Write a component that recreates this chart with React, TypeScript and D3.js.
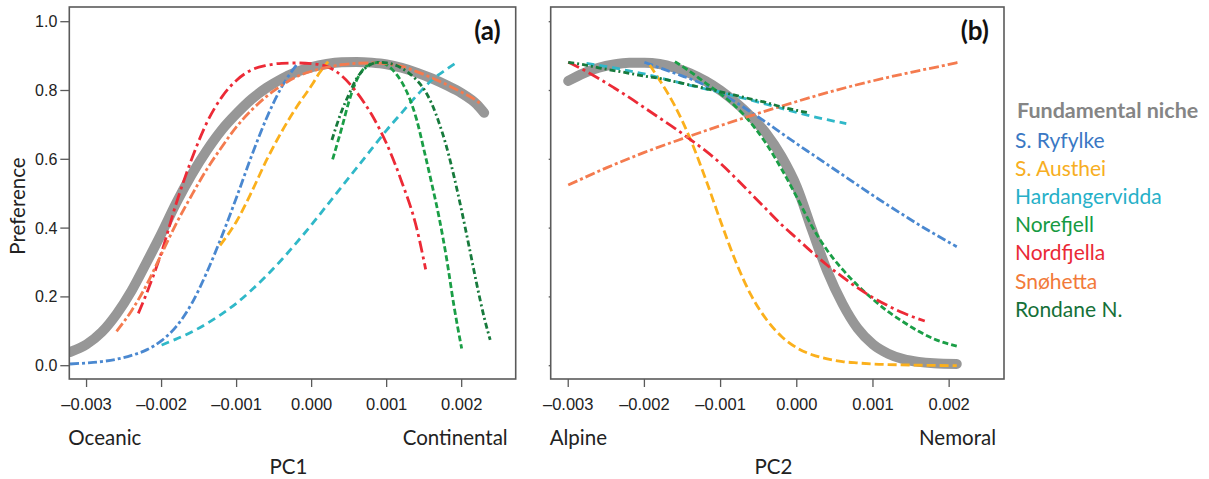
import React from "react";
import * as d3 from "d3";

type Pt = [number, number];

// ---------- Panel (a): PC1 ----------
const fundamentalA: Pt[] = [
  [-0.00322, 0.04], [-0.003, 0.062], [-0.0028, 0.097], [-0.0026, 0.15], [-0.0024, 0.218],
  [-0.0022, 0.3], [-0.002, 0.385], [-0.0018, 0.475], [-0.0016, 0.555], [-0.0014, 0.625],
  [-0.0012, 0.685], [-0.001, 0.733], [-0.0008, 0.775], [-0.0006, 0.808], [-0.0004, 0.834],
  [-0.0002, 0.854], [0, 0.868], [0.0002, 0.877], [0.0004, 0.882], [0.0006, 0.883],
  [0.0008, 0.881], [0.001, 0.876], [0.0012, 0.866], [0.0014, 0.852], [0.0016, 0.835],
  [0.0018, 0.815], [0.002, 0.792], [0.0022, 0.76], [0.0023, 0.735],
];
const ryfylkeA: Pt[] = [
  [-0.00322, 0.005], [-0.003, 0.008], [-0.0028, 0.012], [-0.0026, 0.019], [-0.0024, 0.03],
  [-0.0022, 0.046], [-0.002, 0.073], [-0.0018, 0.115], [-0.0016, 0.18], [-0.0014, 0.27],
  [-0.0012, 0.375], [-0.001, 0.49], [-0.0008, 0.61], [-0.0006, 0.72], [-0.0004, 0.81],
  [-0.00018, 0.88],
];
const austheiA: Pt[] = [
  [-0.00122, 0.35], [-0.001, 0.42], [-0.0008, 0.505], [-0.0006, 0.598], [-0.0004, 0.68],
  [-0.0002, 0.752], [0, 0.815], [0.0001, 0.85], [0.00022, 0.884],
];
const hardangerviddaA: Pt[] = [
  [-0.002, 0.06], [-0.0018, 0.078], [-0.0016, 0.098], [-0.0014, 0.122], [-0.0012, 0.15],
  [-0.001, 0.182], [-0.0008, 0.22], [-0.0006, 0.262], [-0.0004, 0.308], [-0.0002, 0.358],
  [0, 0.41], [0.0002, 0.465], [0.0004, 0.52], [0.0006, 0.575], [0.0008, 0.63],
  [0.001, 0.685], [0.0012, 0.735], [0.0014, 0.785], [0.0016, 0.83], [0.0018, 0.862],
  [0.00195, 0.884],
];
const norefjellA: Pt[] = [
  [0.00028, 0.6], [0.0004, 0.69], [0.0005, 0.77], [0.0006, 0.83], [0.0007, 0.865],
  [0.0008, 0.878], [0.0009, 0.882], [0.001, 0.875], [0.0011, 0.855], [0.0012, 0.825],
  [0.0013, 0.78], [0.0014, 0.715], [0.0015, 0.625], [0.0016, 0.53], [0.0017, 0.43],
  [0.0018, 0.31], [0.0019, 0.17], [0.002, 0.05],
];
const nordfjellaA: Pt[] = [
  [-0.00231, 0.152], [-0.0022, 0.21], [-0.002, 0.33], [-0.0018, 0.475], [-0.0016, 0.6],
  [-0.0014, 0.705], [-0.0012, 0.78], [-0.001, 0.83], [-0.0008, 0.86], [-0.0006, 0.873],
  [-0.0004, 0.879], [-0.0002, 0.88], [0, 0.878], [0.0002, 0.87], [0.0004, 0.843],
  [0.0006, 0.795], [0.0008, 0.73], [0.001, 0.645], [0.0012, 0.535], [0.0014, 0.4],
  [0.00152, 0.28],
];
const snohettaA: Pt[] = [
  [-0.0026, 0.1], [-0.0024, 0.16], [-0.0022, 0.235], [-0.002, 0.325], [-0.0018, 0.415],
  [-0.0016, 0.495], [-0.0014, 0.57], [-0.0012, 0.635], [-0.001, 0.695], [-0.0008, 0.743],
  [-0.0006, 0.783], [-0.0004, 0.815], [-0.0002, 0.84], [0, 0.856], [0.0002, 0.867],
  [0.0004, 0.875], [0.0006, 0.879], [0.0008, 0.88], [0.001, 0.878], [0.0012, 0.87],
  [0.0014, 0.855], [0.0016, 0.837], [0.0018, 0.817], [0.002, 0.795], [0.0022, 0.77],
  [0.00227, 0.758],
];
const rondaneA: Pt[] = [
  [0.00027, 0.656], [0.0004, 0.74], [0.0005, 0.79], [0.0006, 0.835], [0.0007, 0.862],
  [0.0008, 0.877], [0.0009, 0.882], [0.001, 0.88], [0.0011, 0.875], [0.0012, 0.865],
  [0.0013, 0.85], [0.0014, 0.83], [0.0015, 0.803], [0.0016, 0.762], [0.0017, 0.705],
  [0.0018, 0.635], [0.0019, 0.548], [0.002, 0.45], [0.0021, 0.345], [0.0022, 0.238],
  [0.0023, 0.14], [0.00238, 0.075],
];

// ---------- Panel (b): PC2 ----------
const fundamentalB: Pt[] = [
  [-0.003, 0.828], [-0.0028, 0.85], [-0.0026, 0.866], [-0.0024, 0.876], [-0.0022, 0.881],
  [-0.002, 0.881], [-0.0018, 0.877], [-0.0016, 0.866], [-0.0014, 0.85], [-0.0012, 0.828],
  [-0.001, 0.8], [-0.0008, 0.765], [-0.0006, 0.724], [-0.0004, 0.675], [-0.0002, 0.608],
  [0, 0.52], [0.0002, 0.395], [0.0004, 0.275], [0.0006, 0.18], [0.0008, 0.108],
  [0.001, 0.062], [0.0012, 0.035], [0.0014, 0.019], [0.0016, 0.011], [0.0018, 0.007],
  [0.0021, 0.005],
];
const ryfylkeB: Pt[] = [
  [-0.002, 0.882], [-0.0018, 0.866], [-0.0016, 0.85], [-0.0014, 0.834], [-0.0012, 0.815],
  [-0.001, 0.792], [-0.0008, 0.766], [-0.0006, 0.737], [-0.0004, 0.707], [-0.0002, 0.676],
  [0, 0.645], [0.0002, 0.615], [0.0004, 0.585], [0.0006, 0.555], [0.0008, 0.525],
  [0.001, 0.495], [0.0012, 0.466], [0.0014, 0.438], [0.0016, 0.41], [0.0018, 0.384],
  [0.0021, 0.346],
];
const austheiB: Pt[] = [
  [-0.00193, 0.874], [-0.0018, 0.83], [-0.0016, 0.755], [-0.0014, 0.66], [-0.0012, 0.545],
  [-0.001, 0.42], [-0.0008, 0.302], [-0.0006, 0.205], [-0.0004, 0.135], [-0.0002, 0.085],
  [0, 0.052], [0.0002, 0.032], [0.0004, 0.02], [0.0006, 0.012], [0.0008, 0.008],
  [0.001, 0.005], [0.0015, 0.002], [0.0021, 0.0],
];
const hardangerviddaB: Pt[] = [
  [-0.00276, 0.879], [-0.0026, 0.873], [-0.0024, 0.866], [-0.0022, 0.857], [-0.002, 0.848],
  [-0.0018, 0.837], [-0.0016, 0.826], [-0.0014, 0.815], [-0.0012, 0.805], [-0.001, 0.795],
  [-0.0008, 0.783], [-0.0006, 0.772], [-0.0004, 0.76], [-0.0002, 0.748], [0, 0.736],
  [0.0002, 0.725], [0.0004, 0.715], [0.00065, 0.704],
];
const norefjellB: Pt[] = [
  [-0.0016, 0.884], [-0.0014, 0.855], [-0.0012, 0.822], [-0.001, 0.79], [-0.0008, 0.753],
  [-0.0006, 0.705], [-0.0004, 0.645], [-0.0002, 0.572], [0, 0.49], [0.0002, 0.405],
  [0.0004, 0.335], [0.0006, 0.28], [0.0008, 0.233], [0.001, 0.193], [0.0012, 0.157],
  [0.0014, 0.127], [0.0016, 0.1], [0.0018, 0.078], [0.0021, 0.057],
];
const nordfjellaB: Pt[] = [
  [-0.003, 0.882], [-0.0028, 0.86], [-0.0026, 0.835], [-0.0024, 0.808], [-0.0022, 0.78],
  [-0.002, 0.75], [-0.0018, 0.72], [-0.0016, 0.69], [-0.0014, 0.658], [-0.0012, 0.625],
  [-0.001, 0.588], [-0.0008, 0.545], [-0.0006, 0.5], [-0.0004, 0.455], [-0.0002, 0.41],
  [0, 0.37], [0.0002, 0.33], [0.0004, 0.292], [0.0006, 0.258], [0.0008, 0.226],
  [0.001, 0.198], [0.0012, 0.174], [0.0014, 0.153], [0.00168, 0.13],
];
const snohettaB: Pt[] = [
  [-0.003, 0.525], [-0.0025, 0.575], [-0.002, 0.62], [-0.0015, 0.66], [-0.001, 0.698],
  [-0.0005, 0.734], [0, 0.768], [0.0005, 0.8], [0.001, 0.828], [0.0015, 0.853],
  [0.002, 0.876], [0.00212, 0.882],
];
const rondaneB: Pt[] = [
  [-0.003, 0.882], [-0.0028, 0.875], [-0.0026, 0.866], [-0.0024, 0.858], [-0.0022, 0.85],
  [-0.002, 0.842], [-0.0018, 0.835], [-0.0016, 0.826], [-0.0014, 0.816], [-0.0012, 0.806],
  [-0.001, 0.796], [-0.0008, 0.786], [-0.0006, 0.775], [-0.0004, 0.765], [-0.0002, 0.752],
  [0, 0.742], [0.00017, 0.735],
];

// ---------- labels / ticks ----------
const legendNames = [
  "S. Ryfylke", "S. Austhei", "Hardangervidda", "Norefjell", "Nordfjella", "Snøhetta", "Rondane N.",
];
const xTicks = [-0.003, -0.002, -0.001, 0, 0.001, 0.002];
const yTicks = [0, 0.2, 0.4, 0.6, 0.8, 1.0];

const COLORS: Record<string, string> = {
  "S. Ryfylke": "#4a88d0",
  "S. Austhei": "#fbb01c",
  Hardangervidda: "#30b8c8",
  Norefjell: "#1a9e46",
  Nordfjella: "#ec2a36",
  "Snøhetta": "#f47b4f",
  "Rondane N.": "#177a3c",
};
const TEXT_COLORS: Record<string, string> = {
  "S. Ryfylke": "#3a78c4",
  "S. Austhei": "#f7ae22",
  Hardangervidda: "#26b0c8",
  Norefjell: "#159a42",
  Nordfjella: "#ea2a36",
  "Snøhetta": "#f27a3a",
  "Rondane N.": "#157038",
};
const DASH: Record<string, string> = {
  "S. Ryfylke": "9,3,3,3",
  "S. Austhei": "9,4",
  Hardangervidda: "8,5",
  Norefjell: "6,3",
  Nordfjella: "12,4,3,4",
  "Snøhetta": "10,3,3,3",
  "Rondane N.": "6,3,2,3",
};

const seriesA: Record<string, Pt[]> = {
  "S. Ryfylke": ryfylkeA,
  "S. Austhei": austheiA,
  Hardangervidda: hardangerviddaA,
  Norefjell: norefjellA,
  Nordfjella: nordfjellaA,
  "Snøhetta": snohettaA,
  "Rondane N.": rondaneA,
};
const seriesB: Record<string, Pt[]> = {
  "S. Ryfylke": ryfylkeB,
  "S. Austhei": austheiB,
  Hardangervidda: hardangerviddaB,
  Norefjell: norefjellB,
  Nordfjella: nordfjellaB,
  "Snøhetta": snohettaB,
  "Rondane N.": rondaneB,
};

const TOP = 7;
const BOTTOM = 379;
const yScale = d3.scaleLinear().domain([0, 1]).range([365.7, 21.7]);
const X_DOMAIN: [number, number] = [-0.00323, 0.00272];
const fmtX = (v: number) => (v < 0 ? "–" : "") + Math.abs(v).toFixed(3);
const fmtY = d3.format(".1f");
const SANS = "Lato, 'Open Sans', sans-serif";
const TICKFONT = "'Liberation Sans', Arial, sans-serif";

function Panel(props: {
  left: number;
  right: number;
  fundamental: Pt[];
  series: Record<string, Pt[]>;
  tag: string;
  leftLabel: string;
  rightLabel: string;
  title: string;
  yLabels: boolean;
}) {
  const { left, right, fundamental, series, tag, leftLabel, rightLabel, title, yLabels } = props;
  const x = d3.scaleLinear().domain(X_DOMAIN).range([left, right]);
  const line = d3
    .line<Pt>()
    .x((d) => x(d[0]))
    .y((d) => yScale(d[1]))
    .curve(d3.curveMonotoneX);
  const tickLen = yLabels ? 9 : 2;
  return (
    <g>
      <defs>
        <clipPath id={"clip" + tag}>
          <rect x={left} y={TOP} width={right - left} height={BOTTOM - TOP} />
        </clipPath>
      </defs>
      <g clipPath={`url(#clip${tag})`}>
        <path
          d={line(fundamental) || ""}
          fill="none"
          stroke="#979797"
          strokeWidth={10}
          strokeLinecap="round"
          strokeLinejoin="round"
        />
        {legendNames.map((n) => (
          <path
            key={n}
            d={line(series[n]) || ""}
            fill="none"
            stroke={COLORS[n]}
            strokeWidth={2.8}
            strokeDasharray={DASH[n]}
          />
        ))}
      </g>
      <rect x={left} y={TOP} width={right - left} height={BOTTOM - TOP} fill="none" stroke="#5a5a5a" strokeWidth={1.6} />
      {yTicks.map((t) => (
        <g key={t}>
          <line x1={left - tickLen} x2={left} y1={yScale(t)} y2={yScale(t)} stroke="#5a5a5a" strokeWidth={1.3} />
          {yLabels && (
            <text
              x={left - 12}
              y={yScale(t)}
              textAnchor="end"
              dominantBaseline="central"
              fontFamily={TICKFONT}
              fontSize={16}
              fill="#222"
            >
              {fmtY(t)}
            </text>
          )}
        </g>
      ))}
      {xTicks.map((t) => (
        <g key={t}>
          <line x1={x(t)} x2={x(t)} y1={BOTTOM} y2={BOTTOM + 8} stroke="#5a5a5a" strokeWidth={1.3} />
          <text
            x={x(t)}
            y={404}
            textAnchor="middle"
            dominantBaseline="central"
            fontFamily={TICKFONT}
            fontSize={16.5}
            fill="#222"
          >
            {fmtX(t)}
          </text>
        </g>
      ))}
      <text x={right - 15} y={30} textAnchor="end" dominantBaseline="central" fontFamily={SANS} fontWeight="bold" fontSize={26} fill="#111">
        {`(${tag})`}
      </text>
      <text x={left - 1} y={437} dominantBaseline="central" fontFamily={SANS} fontSize={20.5} fill="#222">
        {leftLabel}
      </text>
      <text x={right - 8} y={437} textAnchor="end" dominantBaseline="central" fontFamily={SANS} fontSize={20.5} fill="#222">
        {rightLabel}
      </text>
      <text x={(left + right) / 2 - 4} y={466} textAnchor="middle" dominantBaseline="central" fontFamily={SANS} fontSize={20.5} fill="#222">
        {title}
      </text>
    </g>
  );
}

export default function App() {
  return (
    <svg width={1209} height={479} style={{ display: "block", position: "absolute", left: 0, top: 0 }}>
      <rect width={1209} height={479} fill="#fff" />
      <Panel
        left={69.3}
        right={515.7}
        fundamental={fundamentalA}
        series={seriesA}
        tag="a"
        leftLabel="Oceanic"
        rightLabel="Continental"
        title="PC1"
        yLabels={true}
      />
      <Panel
        left={550.7}
        right={1004}
        fundamental={fundamentalB}
        series={seriesB}
        tag="b"
        leftLabel="Alpine"
        rightLabel="Nemoral"
        title="PC2"
        yLabels={false}
      />
      <text
        transform="translate(17,206) rotate(-90)"
        textAnchor="middle"
        dominantBaseline="central"
        fontFamily={SANS}
        fontSize={20.5}
        fill="#222"
      >
        Preference
      </text>
      <text x={1017} y={110} dominantBaseline="central" fontFamily={SANS} fontWeight="bold" fontSize={21.5} fill="#858585">
        Fundamental niche
      </text>
      {legendNames.map((n, i) => (
        <text
          key={n}
          x={1015}
          y={139.5 + i * 28.1}
          dominantBaseline="central"
          fontFamily={SANS}
          fontSize={21}
          fill={TEXT_COLORS[n]}
        >
          {n}
        </text>
      ))}
    </svg>
  );
}
